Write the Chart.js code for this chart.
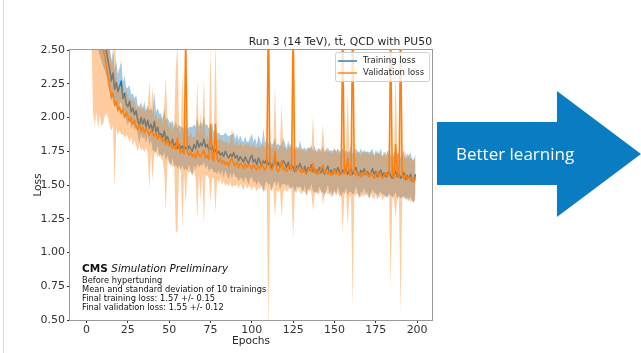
<!DOCTYPE html>
<html>
<head>
<meta charset="utf-8">
<script src="https://cdn.jsdelivr.net/npm/chart.js@4.4.1/dist/chart.umd.min.js"></script>
<style>
html,body{margin:0;padding:0;background:#fff;}
#wrap{position:relative;width:641px;height:353px;overflow:hidden;background:#fff;}
#c{position:absolute;left:0;top:0;}
#edge{position:absolute;left:3px;top:0;width:1px;height:353px;background:#dcdcdc;}
#arrow{position:absolute;left:437px;top:91px;width:204px;height:126px;background:#0a7cc1;
clip-path:polygon(0 24.6%,58.8% 24.6%,58.8% 0,100% 50%,58.8% 100%,58.8% 74.6%,0 74.6%);}
#arrowText{position:absolute;left:456px;top:143px;color:#fff;font-family:"Open Sans",sans-serif;font-size:17px;line-height:22px;white-space:nowrap;}
</style>
</head>
<body>
<div id="wrap">
<canvas id="c" width="641" height="353"></canvas>
<div id="edge"></div>
<div id="arrow"></div>
<div id="arrowText">Better learning</div>
</div>
<script>
// ---- data ----
const chartTitle = "Run 3 (14 TeV), tt\u0304, QCD with PU50";
const seriesNames = ["Training loss", "Validation loss"];
const xTicks = [0, 25, 50, 75, 100, 125, 150, 175, 200];
const yTicks = [0.50, 0.75, 1.00, 1.25, 1.50, 1.75, 2.00, 2.25, 2.50];
const annotationLines = ["Before hypertuning", "Mean and standard deviation of 10 trainings",
  "Final training loss: 1.57 +/- 0.15", "Final validation loss: 1.55 +/- 0.12"];

const trainMean = [3.60,3.40,3.22,3.10,2.98,2.90,2.84,2.76,2.70,2.64,
2.58,2.54,2.49,2.42,2.36,2.27,2.33,2.21,2.26,2.19,
2.23,2.27,2.14,2.18,2.10,2.08,2.12,2.04,2.07,2.02,
2.05,1.98,1.94,2.00,1.95,1.99,1.93,1.98,1.92,1.95,
1.90,1.97,1.89,1.93,1.87,1.88,1.85,1.90,1.83,1.86,
1.82,1.80,1.84,1.78,1.81,1.77,1.80,1.77,1.79,1.76,
1.78,1.76,1.79,1.77,1.75,1.80,1.77,1.83,1.78,1.81,
1.79,1.84,1.78,1.80,1.76,1.77,1.79,1.74,1.76,1.73,
1.75,1.72,1.74,1.71,1.75,1.72,1.70,1.73,1.71,1.74,
1.70,1.72,1.68,1.71,1.69,1.67,1.71,1.68,1.66,1.70,
1.72,1.67,1.69,1.65,1.70,1.67,1.64,1.68,1.66,1.69,
1.65,1.67,1.63,1.66,1.69,1.64,1.67,1.63,1.65,1.68,
1.66,1.63,1.67,1.62,1.65,1.63,1.60,1.64,1.62,1.66,
1.63,1.60,1.64,1.59,1.63,1.61,1.65,1.60,1.62,1.59,
1.61,1.63,1.59,1.62,1.58,1.61,1.64,1.59,1.61,1.58,
1.62,1.59,1.63,1.60,1.58,1.61,1.59,1.62,1.58,1.60,
1.62,1.58,1.60,1.63,1.59,1.57,1.61,1.59,1.62,1.58,
1.60,1.57,1.59,1.62,1.58,1.60,1.56,1.59,1.61,1.57,
1.59,1.56,1.58,1.60,1.57,1.55,1.58,1.60,1.56,1.58,
1.55,1.57,1.59,1.54,1.57,1.55,1.58,1.53,1.53,1.58];

const trainStd = [0.40,0.38,0.36,0.34,0.32,0.30,0.28,0.26,0.24,0.22,
0.20,0.19,0.18,0.17,0.16,0.15,0.17,0.14,0.16,0.13,
0.14,0.15,0.12,0.13,0.12,0.14,0.12,0.13,0.11,0.12,
0.12,0.11,0.13,0.12,0.11,0.13,0.12,0.11,0.13,0.12,
0.14,0.22,0.15,0.14,0.16,0.15,0.14,0.16,0.15,0.14,
0.15,0.16,0.14,0.15,0.16,0.15,0.15,0.16,0.14,0.15,
0.16,0.15,0.14,0.16,0.18,0.15,0.16,0.17,0.15,0.16,
0.15,0.17,0.16,0.15,0.16,0.15,0.17,0.15,0.16,0.15,
0.14,0.15,0.13,0.16,0.14,0.15,0.16,0.14,0.16,0.15,
0.14,0.16,0.15,0.16,0.14,0.15,0.15,0.14,0.16,0.15,
0.16,0.15,0.16,0.15,0.17,0.16,0.15,0.24,0.15,0.16,
0.15,0.16,0.17,0.15,0.16,0.15,0.14,0.16,0.15,0.17,
0.15,0.14,0.16,0.15,0.17,0.14,0.16,0.15,0.14,0.17,
0.15,0.16,0.14,0.17,0.15,0.16,0.14,0.15,0.17,0.15,
0.16,0.14,0.15,0.17,0.16,0.15,0.14,0.16,0.15,0.17,
0.15,0.16,0.14,0.15,0.17,0.16,0.15,0.14,0.16,0.15,
0.17,0.15,0.16,0.14,0.15,0.17,0.16,0.15,0.14,0.16,
0.15,0.17,0.16,0.15,0.14,0.16,0.17,0.15,0.16,0.14,
0.16,0.15,0.17,0.16,0.15,0.14,0.16,0.15,0.17,0.16,
0.15,0.16,0.17,0.15,0.16,0.17,0.16,0.15,0.16,0.15];

const valMean = [3.30,3.10,2.95,2.85,2.78,2.72,2.66,2.62,2.58,2.54,
2.50,2.46,2.38,2.30,2.22,2.15,2.18,2.09,2.12,2.05,
2.08,2.03,2.06,2.00,2.04,2.01,1.97,2.00,1.95,1.98,
1.93,1.91,1.95,1.90,1.93,1.89,1.92,1.90,1.87,1.90,
1.88,1.86,1.89,1.84,1.87,1.85,1.82,1.84,1.80,1.83,
1.79,1.81,1.77,1.79,1.76,1.85,1.77,1.74,1.76,1.73,
2.55,1.74,1.72,1.75,1.71,1.73,1.70,1.76,1.72,1.71,
1.73,1.76,1.70,1.72,1.69,1.95,1.70,1.68,1.95,1.69,
1.67,1.70,1.66,1.68,1.65,1.67,1.64,1.68,1.70,1.66,
1.64,1.67,1.63,1.66,1.65,1.62,1.66,1.63,1.65,1.64,
1.62,1.65,1.63,1.61,1.64,1.62,1.66,1.63,1.61,1.64,
2.70,1.63,1.61,1.64,1.75,1.62,1.60,1.63,1.68,1.61,
1.63,1.60,1.62,1.65,1.61,2.65,1.62,1.60,1.63,1.61,
1.59,1.62,1.60,1.58,1.61,1.63,1.60,1.66,1.59,1.61,
1.58,1.60,1.62,1.65,1.59,1.61,1.58,1.60,1.57,1.59,
1.61,1.58,1.60,1.57,1.59,2.60,1.58,1.60,1.70,1.58,
1.57,2.70,1.59,1.57,1.60,1.58,1.56,1.59,1.57,1.60,
1.58,1.56,1.59,1.57,1.55,1.58,1.60,1.56,1.58,1.55,
1.57,1.59,1.56,1.58,2.55,1.57,1.55,1.80,1.58,1.56,
2.60,1.57,1.55,1.58,1.54,1.56,1.53,1.55,1.52,1.55];

const valStd = [0.40,0.45,0.40,0.30,0.75,0.78,0.62,0.70,0.56,0.60,
0.55,0.45,0.35,0.30,0.28,0.25,0.24,0.62,0.20,0.18,
0.17,0.16,0.18,0.15,0.17,0.15,0.16,0.14,0.16,0.15,
0.14,0.16,0.15,0.14,0.16,0.15,0.14,0.16,0.40,0.15,
0.35,0.13,0.15,0.14,0.13,0.15,0.14,0.24,0.50,0.14,
0.13,0.15,0.14,0.13,0.60,0.70,0.14,0.13,0.58,0.15,
1.20,0.14,0.13,0.15,0.14,0.13,0.15,0.52,0.14,0.32,
0.14,0.55,0.13,0.15,0.14,0.58,0.15,0.13,0.65,0.14,
0.16,0.15,0.16,0.15,0.16,0.16,0.15,0.16,0.22,0.16,
0.15,0.16,0.16,0.15,0.16,0.16,0.15,0.16,0.16,0.15,
0.16,0.16,0.15,0.16,0.16,0.15,0.16,0.16,0.16,0.15,
2.30,0.16,0.16,0.15,0.50,0.16,0.15,0.16,0.42,0.16,
0.16,0.15,0.16,0.16,0.15,1.55,0.16,0.16,0.15,0.16,
0.16,0.16,0.15,0.16,0.16,0.15,0.16,0.35,0.16,0.15,
0.16,0.16,0.15,0.30,0.16,0.16,0.15,0.16,0.16,0.15,
0.16,0.16,0.15,0.16,0.16,1.45,0.16,0.15,0.50,0.16,
0.16,2.10,0.16,0.15,0.16,0.16,0.15,0.16,0.16,0.15,
0.16,0.16,0.15,0.16,0.16,0.15,0.16,0.16,0.15,0.16,
0.16,0.16,0.15,0.16,1.80,0.16,0.16,0.55,0.16,0.15,
2.05,0.16,0.15,0.16,0.16,0.15,0.16,0.16,0.15,0.16];

// ---- build the library's tables ----
const pts = (m) => m.map((v, i) => ({x: i, y: v}));
const band = (m, s, sign) => m.map((v, i) => ({x: i, y: v + sign * s[i]}));

const BLUE = '#1f77b4', ORANGE = '#ff7f0e';
const FONT = '"DejaVu Sans", sans-serif';

const deco = {
  id: 'deco',
  beforeDraw(chart) {
    const ctx = chart.ctx;
    ctx.save(); ctx.fillStyle = '#fff'; ctx.fillRect(0, 0, chart.width, chart.height); ctx.restore();
  },
  afterDraw(chart) {
    const ctx = chart.ctx, a = chart.chartArea;
    ctx.save();
    // frame
    ctx.strokeStyle = '#9a9a9a'; ctx.lineWidth = 1;
    ctx.strokeRect(a.left - 0.5, a.top - 0.5, a.right - a.left + 1, a.bottom - a.top + 1);
    // title
    ctx.fillStyle = '#262626';
    ctx.font = '10.8px ' + FONT; ctx.textAlign = 'right'; ctx.textBaseline = 'alphabetic';
    ctx.fillText(chartTitle, a.right, 45);
    // axis titles
    ctx.textAlign = 'center';
    ctx.font = '10.6px ' + FONT;
    ctx.fillText('Epochs', (a.left + a.right) / 2, 344);
    ctx.save(); ctx.translate(41, (a.top + a.bottom) / 2); ctx.rotate(-Math.PI / 2);
    ctx.fillText('Loss', 0, 0); ctx.restore();
    // legend
    const lx = 335, ly = 52, lw = 94, lh = 29;
    ctx.fillStyle = 'rgba(255,255,255,0.8)'; ctx.strokeStyle = '#d0d0d0';
    ctx.beginPath(); ctx.roundRect(lx + 0.5, ly + 0.5, lw, lh, 2); ctx.fill(); ctx.stroke();
    ctx.lineWidth = 1.4;
    [[BLUE, 61], [ORANGE, 73]].forEach(([c, y], k) => {
      ctx.strokeStyle = c; ctx.beginPath(); ctx.moveTo(338, y); ctx.lineTo(357, y); ctx.stroke();
      ctx.fillStyle = '#262626'; ctx.font = '8.5px ' + FONT; ctx.textAlign = 'left'; ctx.textBaseline = 'middle';
      ctx.fillText(seriesNames[k], 363, y);
    });
    // CMS annotation
    ctx.textBaseline = 'alphabetic'; ctx.textAlign = 'left'; ctx.fillStyle = '#111';
    ctx.font = 'bold 10.5px ' + FONT;
    ctx.fillText('CMS', 82, 272);
    const w = ctx.measureText('CMS ').width;
    ctx.font = 'italic 10.3px ' + FONT;
    ctx.fillText('Simulation Preliminary', 82 + w, 272);
    ctx.font = '8.3px ' + FONT;
    annotationLines.forEach((t, i) => ctx.fillText(t, 82, 282.5 + 9 * i));
    ctx.restore();
  }
};

new Chart(document.getElementById('c'), {
  type: 'line',
  data: {
    datasets: [
      {data: band(trainMean, trainStd, 1), borderColor: 'transparent', borderWidth: 0, pointRadius: 0,
       backgroundColor: 'rgba(31,119,180,0.4)', fill: '+1', order: 3},
      {data: band(trainMean, trainStd, -1), borderColor: 'transparent', borderWidth: 0, pointRadius: 0,
       fill: false, order: 3},
      {label: seriesNames[0], data: pts(trainMean), borderColor: BLUE, borderWidth: 1.5, pointRadius: 0,
       fill: false, order: 2},
      {data: band(valMean, valStd, 1), borderColor: 'transparent', borderWidth: 0, pointRadius: 0,
       backgroundColor: 'rgba(255,127,14,0.4)', fill: '+1', order: 1},
      {data: band(valMean, valStd, -1), borderColor: 'transparent', borderWidth: 0, pointRadius: 0,
       fill: false, order: 1},
      {label: seriesNames[1], data: pts(valMean), borderColor: ORANGE, borderWidth: 1.5, pointRadius: 0,
       fill: false, order: 0}
    ]
  },
  options: {
    responsive: false, animation: false, devicePixelRatio: 1,
    layout: {padding: {top: 50, right: 209, left: 0, bottom: 0}},
    elements: {line: {tension: 0, borderJoinStyle: 'round'}},
    plugins: {legend: {display: false}, tooltip: {enabled: false}, title: {display: false}},
    scales: {
      x: {
        type: 'linear', min: -10, max: 209,
        afterFit: (s) => { s.height = 33; },
        afterBuildTicks: (s) => { s.ticks = xTicks.map(v => ({value: v})); },
        grid: {drawOnChartArea: false, tickLength: 3, tickColor: '#333'},
        border: {display: false},
        ticks: {font: {family: 'DejaVu Sans', size: 11}, color: '#333', padding: 1, maxRotation: 0, autoSkip: false}
      },
      y: {
        type: 'linear', min: 0.5, max: 2.5,
        afterFit: (s) => { s.width = 70; },
        afterBuildTicks: (s) => { s.ticks = yTicks.map(v => ({value: v})); },
        grid: {drawOnChartArea: false, tickLength: 3, tickColor: '#333'},
        border: {display: false},
        ticks: {font: {family: 'DejaVu Sans', size: 11}, color: '#333', padding: 2, autoSkip: false,
                callback: (v) => Number(v).toFixed(2)}
      }
    }
  },
  plugins: [deco]
});
</script>
</body>
</html>
